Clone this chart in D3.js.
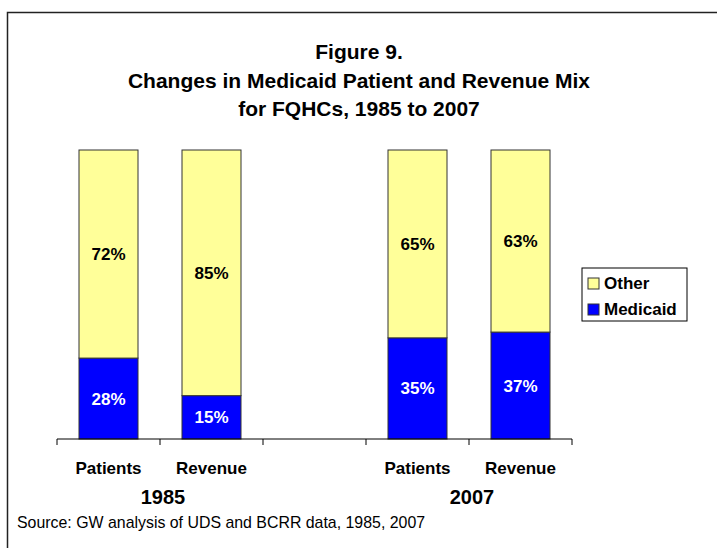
<!DOCTYPE html>
<html lang="en">
<head>
<meta charset="UTF-8">
<title>Figure 9</title>
<script src="https://cdn.jsdelivr.net/npm/d3@7"></script>
<style>
  body { margin: 0; background: #fff; }
  text { font-family: Arial, "Liberation Sans", sans-serif; }
</style>
</head>
<body>
<div id="container"></div>
<script>
// data
const titleLines = ["Figure 9.", "Changes in Medicaid Patient and Revenue Mix", "for FQHCs, 1985 to 2007"];
const years = ["1985", "2007"];
const measures = ["Patients", "Revenue"];
const slots = ["1985|Patients", "1985|Revenue", "gap", "2007|Patients", "2007|Revenue"];
const medicaidPct = [28, 15, 35, 37];
const otherPct = [72, 85, 65, 63];
const seriesNames = ["Other", "Medicaid"];
const sourceNote = "Source: GW analysis of UDS and BCRR data, 1985, 2007";

const W = 717, H = 548;
const colors = { Other: "#FFFF99", Medicaid: "#0000FF" };

let svg = d3.select('#container')
  .append('svg')
  .attr('width', W)
  .attr('height', H);

// frame (right and bottom edges sit outside the picture)
svg.append('rect')
  .attr('x', 7.5).attr('y', 12.5)
  .attr('width', 800).attr('height', 700)
  .attr('fill', 'none')
  .attr('stroke', '#222')
  .attr('stroke-width', 1.5);

// title
svg.append('g').selectAll('text')
  .data(titleLines)
  .join('text')
  .attr('x', 359)
  .attr('y', (d, i) => 59 + i * 28.5)
  .attr('text-anchor', 'middle')
  .style('font-size', '21px')
  .style('font-weight', 'bold')
  .text(d => d);

// scales
let x = d3.scaleBand().domain(slots).range([57, 572]).padding(0);
let y = d3.scaleLinear().domain([0, 100]).range([439, 150]);
const barW = 59;

// build rows
let rows = [];
let k = 0;
slots.forEach(s => {
  if (s === 'gap') return;
  rows.push({ slot: s, Medicaid: medicaidPct[k], Other: otherPct[k] });
  k++;
});
let stacked = d3.stack().keys(["Medicaid", "Other"])(rows);

let layers = svg.append('g').selectAll('g')
  .data(stacked)
  .join('g')
  .attr('fill', d => colors[d.key]);

layers.selectAll('rect')
  .data(d => d)
  .join('rect')
  .attr('x', d => x(d.data.slot) + (x.bandwidth() - barW) / 2)
  .attr('width', barW)
  .attr('y', d => y(d[1]))
  .attr('height', d => y(d[0]) - y(d[1]))
  .attr('stroke', '#333')
  .attr('stroke-width', 1);

// percent labels
layers.each(function (layer) {
  d3.select(this).selectAll('text')
    .data(layer)
    .join('text')
    .attr('x', d => x(d.data.slot) + x.bandwidth() / 2)
    .attr('y', d => (y(d[0]) + y(d[1])) / 2 + 6)
    .attr('text-anchor', 'middle')
    .attr('fill', layer.key === 'Medicaid' ? '#fff' : '#000')
    .style('font-size', '17px')
    .style('font-weight', 'bold')
    .text(d => (d[1] - d[0]) + '%');
});

// category axis
let axis = svg.append('g').attr('transform', 'translate(0,439)');
axis.append('line')
  .attr('x1', x.range()[0]).attr('x2', x.range()[1])
  .attr('stroke', '#000');
axis.selectAll('line.tick')
  .data(slots.map(s => x(s)).concat([x.range()[1]]))
  .join('line')
  .attr('class', 'tick')
  .attr('x1', d => d).attr('x2', d => d)
  .attr('y1', 0).attr('y2', 6)
  .attr('stroke', '#000');

svg.append('g').selectAll('text')
  .data(rows)
  .join('text')
  .attr('x', d => x(d.slot) + x.bandwidth() / 2)
  .attr('y', 474)
  .attr('text-anchor', 'middle')
  .style('font-size', '17px')
  .style('font-weight', 'bold')
  .text(d => d.slot.split('|')[1]);

svg.append('g').selectAll('text')
  .data(years)
  .join('text')
  .attr('x', d => x(d + '|Revenue') + 3)
  .attr('y', 504)
  .attr('text-anchor', 'middle')
  .style('font-size', '20px')
  .style('font-weight', 'bold')
  .text(d => d);

// legend
let legend = svg.append('g').attr('transform', 'translate(582,268)');
legend.append('rect')
  .attr('width', 105).attr('height', 53)
  .attr('fill', '#fff')
  .attr('stroke', '#000');
let items = legend.selectAll('g.item')
  .data(seriesNames)
  .join('g')
  .attr('class', 'item')
  .attr('transform', (d, i) => `translate(6,${10 + i * 26})`);
items.append('rect')
  .attr('width', 11).attr('height', 11)
  .attr('fill', d => colors[d])
  .attr('stroke', '#333');
items.append('text')
  .attr('x', 16).attr('y', 11)
  .style('font-size', '17px')
  .style('font-weight', 'bold')
  .text(d => d);

// source
svg.append('text')
  .attr('x', 17).attr('y', 528)
  .style('font-size', '15.9px')
  .text(sourceNote);
</script>
</body>
</html>
